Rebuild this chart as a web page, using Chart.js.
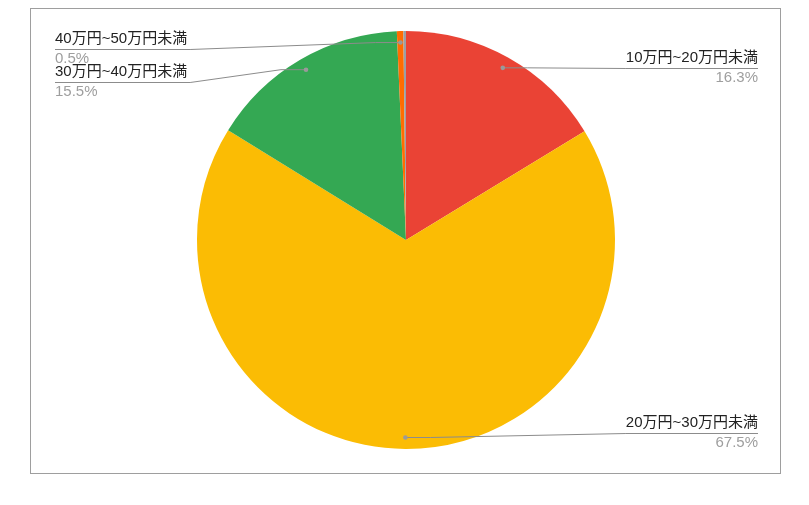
<!DOCTYPE html>
<html>
<head>
<meta charset="utf-8">
<script src="https://cdn.jsdelivr.net/npm/chart.js@4/dist/chart.umd.min.js"></script>
<style>
  html,body{margin:0;padding:0;background:#fff;}
  canvas{display:block;}
</style>
</head>
<body>
<canvas id="pie" width="809" height="505"></canvas>
<script>
/* ---------- data ---------- */
const categories = ['10万円~20万円未満', '20万円~30万円未満', '30万円~40万円未満', '40万円~50万円未満', ''];
const shares     = [16.3, 67.5, 15.5, 0.5, 0.2];
const pctLabels  = ['16.3%', '67.5%', '15.5%', '0.5%', ''];
const colors     = ['#EA4335', '#FBBC04', '#34A853', '#FF6D01', '#9AA0A6'];

/* ---------- label layout (side, underline y) ---------- */
const labelSpots = [
  {side:'right', y:68},
  {side:'right', y:433},
  {side:'left',  y:82},
  {side:'left',  y:49},
  null,
];
const FONT = '15px "Liberation Sans", Arial, "Noto Sans CJK JP", sans-serif';

const frame = {
  id:'frame',
  beforeDraw(c){
    const g=c.ctx; g.save();
    g.fillStyle='#fff'; g.fillRect(0,0,c.width,c.height);
    g.strokeStyle='#9e9e9e'; g.lineWidth=1;
    g.strokeRect(30.5,8.5,750,465);
    g.restore();
  }
};

const leaders = {
  id:'leaders',
  afterDatasetsDraw(c){
    const g=c.ctx, arcs=c.getDatasetMeta(0).data;
    g.save();
    g.font=FONT; g.textBaseline='middle';
    arcs.forEach((a,i)=>{
      const spot=labelSpots[i]; if(!spot) return;
      const mid=(a.startAngle+a.endAngle)/2, r=a.outerRadius*0.945;
      const px=a.x+Math.cos(mid)*r, py=a.y+Math.sin(mid)*r;
      const w=g.measureText(categories[i]).width;
      let x0,x1,ex;
      if(spot.side==='right'){ x1=758; x0=x1-w; ex=px+25; }
      else { x0=55; x1=x0+w+3; ex=px-25; }
      // leader + underline
      g.strokeStyle='#8c8c8c'; g.lineWidth=1;
      g.beginPath();
      if(spot.side==='right'){
        g.moveTo(px,py); g.lineTo(ex,py); g.lineTo(x0,spot.y+0.5); g.lineTo(x1,spot.y+0.5);
      } else {
        g.moveTo(x0,spot.y+0.5); g.lineTo(x1,spot.y+0.5); g.lineTo(ex,py); g.lineTo(px,py);
      }
      g.stroke();
      g.fillStyle='#9a9a9a';
      g.beginPath(); g.arc(px,py,2.3,0,Math.PI*2); g.fill();
      // texts
      g.textAlign=spot.side==='right'?'right':'left';
      const tx=spot.side==='right'?x1:x0;
      g.fillStyle='#222'; g.fillText(categories[i],tx,spot.y-10);
      g.fillStyle='#9e9e9e'; g.fillText(pctLabels[i],tx,spot.y+10);
    });
    g.restore();
  }
};

new Chart(document.getElementById('pie'),{
  type:'pie',
  data:{labels:categories,datasets:[{data:shares,backgroundColor:colors,borderWidth:0}]},
  options:{
    responsive:false,animation:false,
    layout:{padding:{left:197,right:194,top:31,bottom:56}},
    plugins:{legend:{display:false},tooltip:{enabled:false}}
  },
  plugins:[frame,leaders]
});
</script>
</body>
</html>
